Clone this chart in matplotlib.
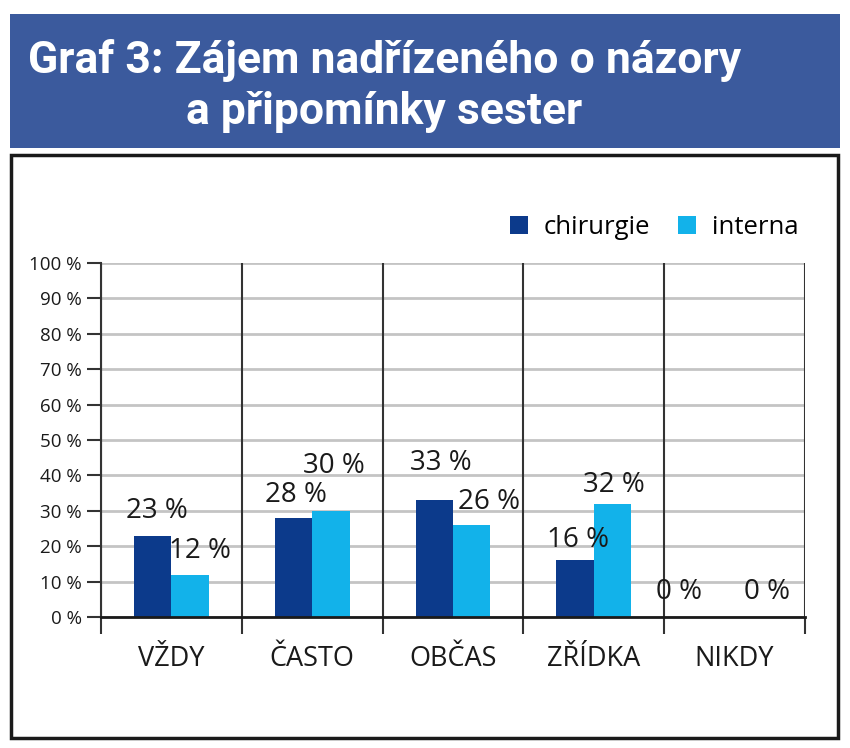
import matplotlib.pyplot as plt
import numpy as np
from matplotlib.patches import Rectangle

categories = ['VŽDY', 'ČASTO', 'OBČAS', 'ZŘÍDKA', 'NIKDY']
chirurgie = [23, 28, 33, 16, 0]
interna = [12, 30, 26, 32, 0]
series_names = ['chirurgie', 'interna']
yticks = [0, 10, 20, 30, 40, 50, 60, 70, 80, 90, 100]

# label nudges (pixels) to mimic the original placement
chir_dx = [4, 2, 6, 3, -37]
chir_dy = [25, 23, 37, 20, 25]
int_dx = [10, 3, 17, 1, 14]
int_dy = [24, 45, 23, 19, 25]

dark = '#0c3a8b'
light = '#12b2ea'
banner = '#3b5a9d'

plt.rcParams['font.family'] = ['Open Sans', 'DejaVu Sans']

fig = plt.figure(figsize=(8.5, 7.48), dpi=100)

# title banner
fig.patches.append(Rectangle((10/850, 1-148/748), 830/850, 134/748,
                             transform=fig.transFigure, facecolor=banner,
                             edgecolor='none', zorder=0))
fig.text(28/850, 1-60/748, 'Graf 3: Zájem nadřízeného o názory', color='white',
         fontsize=32, fontweight='bold', va='center', ha='left',
         family=['Roboto', 'DejaVu Sans'])
fig.text(186/850, 1-112/748, 'a připomínky sester', color='white',
         fontsize=32, fontweight='bold', va='center', ha='left',
         family=['Roboto', 'DejaVu Sans'])

# chart frame
fig.patches.append(Rectangle((11/850, 1-738/748), 827/850, 583/748,
                             transform=fig.transFigure, facecolor='none',
                             edgecolor='#1a1a1a', linewidth=2.5, zorder=0))

ax = fig.add_axes([101/850, 1-617/748, 704/850, 354/748])
x = np.arange(len(categories))
w = 0.265
b1 = ax.bar(x - w/2, chirurgie, w, color=dark, zorder=3, label=series_names[0])
b2 = ax.bar(x + w/2, interna, w, color=light, zorder=3, label=series_names[1])

for i, r in enumerate(b1):
    ax.annotate(f'{chirurgie[i]} %', (r.get_x() + r.get_width()/2, r.get_height()),
                xytext=(chir_dx[i], chir_dy[i]), textcoords='offset pixels',
                ha='center', va='center', fontsize=20, color='#1a1a1a', zorder=5)
for i, r in enumerate(b2):
    ax.annotate(f'{interna[i]} %', (r.get_x() + r.get_width()/2, r.get_height()),
                xytext=(int_dx[i], int_dy[i]), textcoords='offset pixels',
                ha='center', va='center', fontsize=20, color='#1a1a1a', zorder=5)

ax.set_xlim(-0.5, len(categories) - 0.5)
ax.set_ylim(0, 100)
ax.set_yticks(yticks)
ax.set_yticklabels([f'{t} %' for t in yticks], fontsize=13.5, color='#1a1a1a')
ax.yaxis.grid(True, color='#c4c4c4', linewidth=2, zorder=0)
ax.tick_params(axis='y', length=10, width=1.5, color='#333333', pad=4)

ax.set_xticks(x)
ax.set_xticklabels(categories, fontsize=19.5, color='#1a1a1a')
ax.tick_params(axis='x', which='major', length=0, pad=20)
bounds = np.arange(len(categories) + 1) - 0.5
ax.set_xticks(bounds, minor=True)
ax.tick_params(axis='x', which='minor', length=12, width=1.5, color='#333333')
for bx in bounds:
    ax.axvline(bx, color='#333333', linewidth=1.5, zorder=2)

for s in ['top', 'right']:
    ax.spines[s].set_visible(False)
ax.spines['left'].set_color('#333333')
ax.spines['left'].set_linewidth(1.5)
ax.spines['bottom'].set_color('#1a1a1a')
ax.spines['bottom'].set_linewidth(2)
ax.spines['bottom'].set_zorder(4)

leg = ax.legend(loc='lower right', bbox_to_anchor=(1.005, 1.035), ncol=2,
                frameon=False, fontsize=18.5, handlelength=0.7, handleheight=0.7,
                handletextpad=0.6, columnspacing=1.1, borderaxespad=0)
for h in leg.legend_handles:
    h.set_linewidth(0)

fig.savefig('out.png', dpi=100)
